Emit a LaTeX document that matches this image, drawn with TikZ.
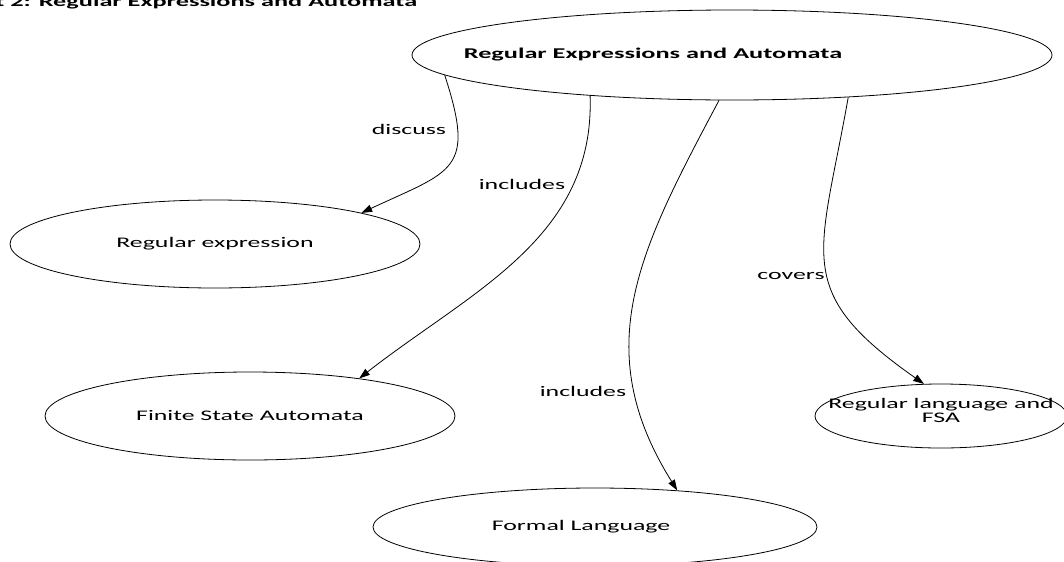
\documentclass[tikz,border=0pt]{standalone}
\usepackage{fontspec}
\setmainfont{Carlito}[FakeStretch=1.76]
\usetikzlibrary{shapes.geometric,arrows.meta}

\tikzset{
  concept/.style={draw, ellipse, inner sep=0pt, line width=0.6pt},
  ctext/.style={inner sep=0pt, align=center, font=\fontsize{11}{10.5}\selectfont},
  link/.style={-{Triangle[length=8pt,width=5.5pt]}, line width=0.6pt},
  linklabel/.style={inner sep=0pt, font=\fontsize{11}{13}\selectfont}
}

\begin{document}
\begin{tikzpicture}[x=0.75pt, y=0.75pt]
% \draw[help lines] (0,0) grid (1064,-561);
\useasboundingbox (0,0) rectangle (1064,-561);
\node[anchor=base west, inner sep=0pt, font=\bfseries\fontsize{11.2}{13}\selectfont] (title) at (-5,-6) {t 2: Regular Expressions and Automata};

% concept nodes, text set as centre labels
\node[concept, minimum width=480pt, minimum height=67.5pt,
  label={[ctext, font=\bfseries\fontsize{11.2}{13}\selectfont, xshift=-59.25pt]center:Regular Expressions and Automata}] (rea) at (732,-55) {};
\node[concept, minimum width=307.5pt, minimum height=66pt,
  label={[ctext]center:Regular expression}] (regex) at (215,-244) {};
\node[concept, minimum width=307.5pt, minimum height=66pt,
  label={[ctext]center:Finite State Automata}] (fsa) at (250,-416) {};
\node[concept, minimum width=333pt, minimum height=58.5pt,
  label={[ctext, xshift=-10.5pt]center:Formal Language}] (formal) at (595,-527) {};
\node[concept, minimum width=189pt, minimum height=48pt,
  label={[ctext, yshift=4.5pt]center:{Regular language and\\FSA}}] (reglang) at (941,-416) {};

% links
\draw[link] (rea.184) to[out=-72, in=25, looseness=1.6] (regex.12);
\draw[link] (rea.196) to[out=-88, in=38] (fsa.19);
\draw[link] (rea.254) to[out=-118, in=122, looseness=1.1] (formal.24);
\draw[link] (rea.340) to[out=-100, in=145, looseness=1.4] (reglang.118);

\node[linklabel] (discuss) at (409,-129) {discuss};
\node[linklabel] (incl1) at (522,-184) {includes};
\node[linklabel] (incl2) at (583,-391) {includes};
\node[linklabel] (covers) at (791,-276) {covers};
\end{tikzpicture}
\end{document}
